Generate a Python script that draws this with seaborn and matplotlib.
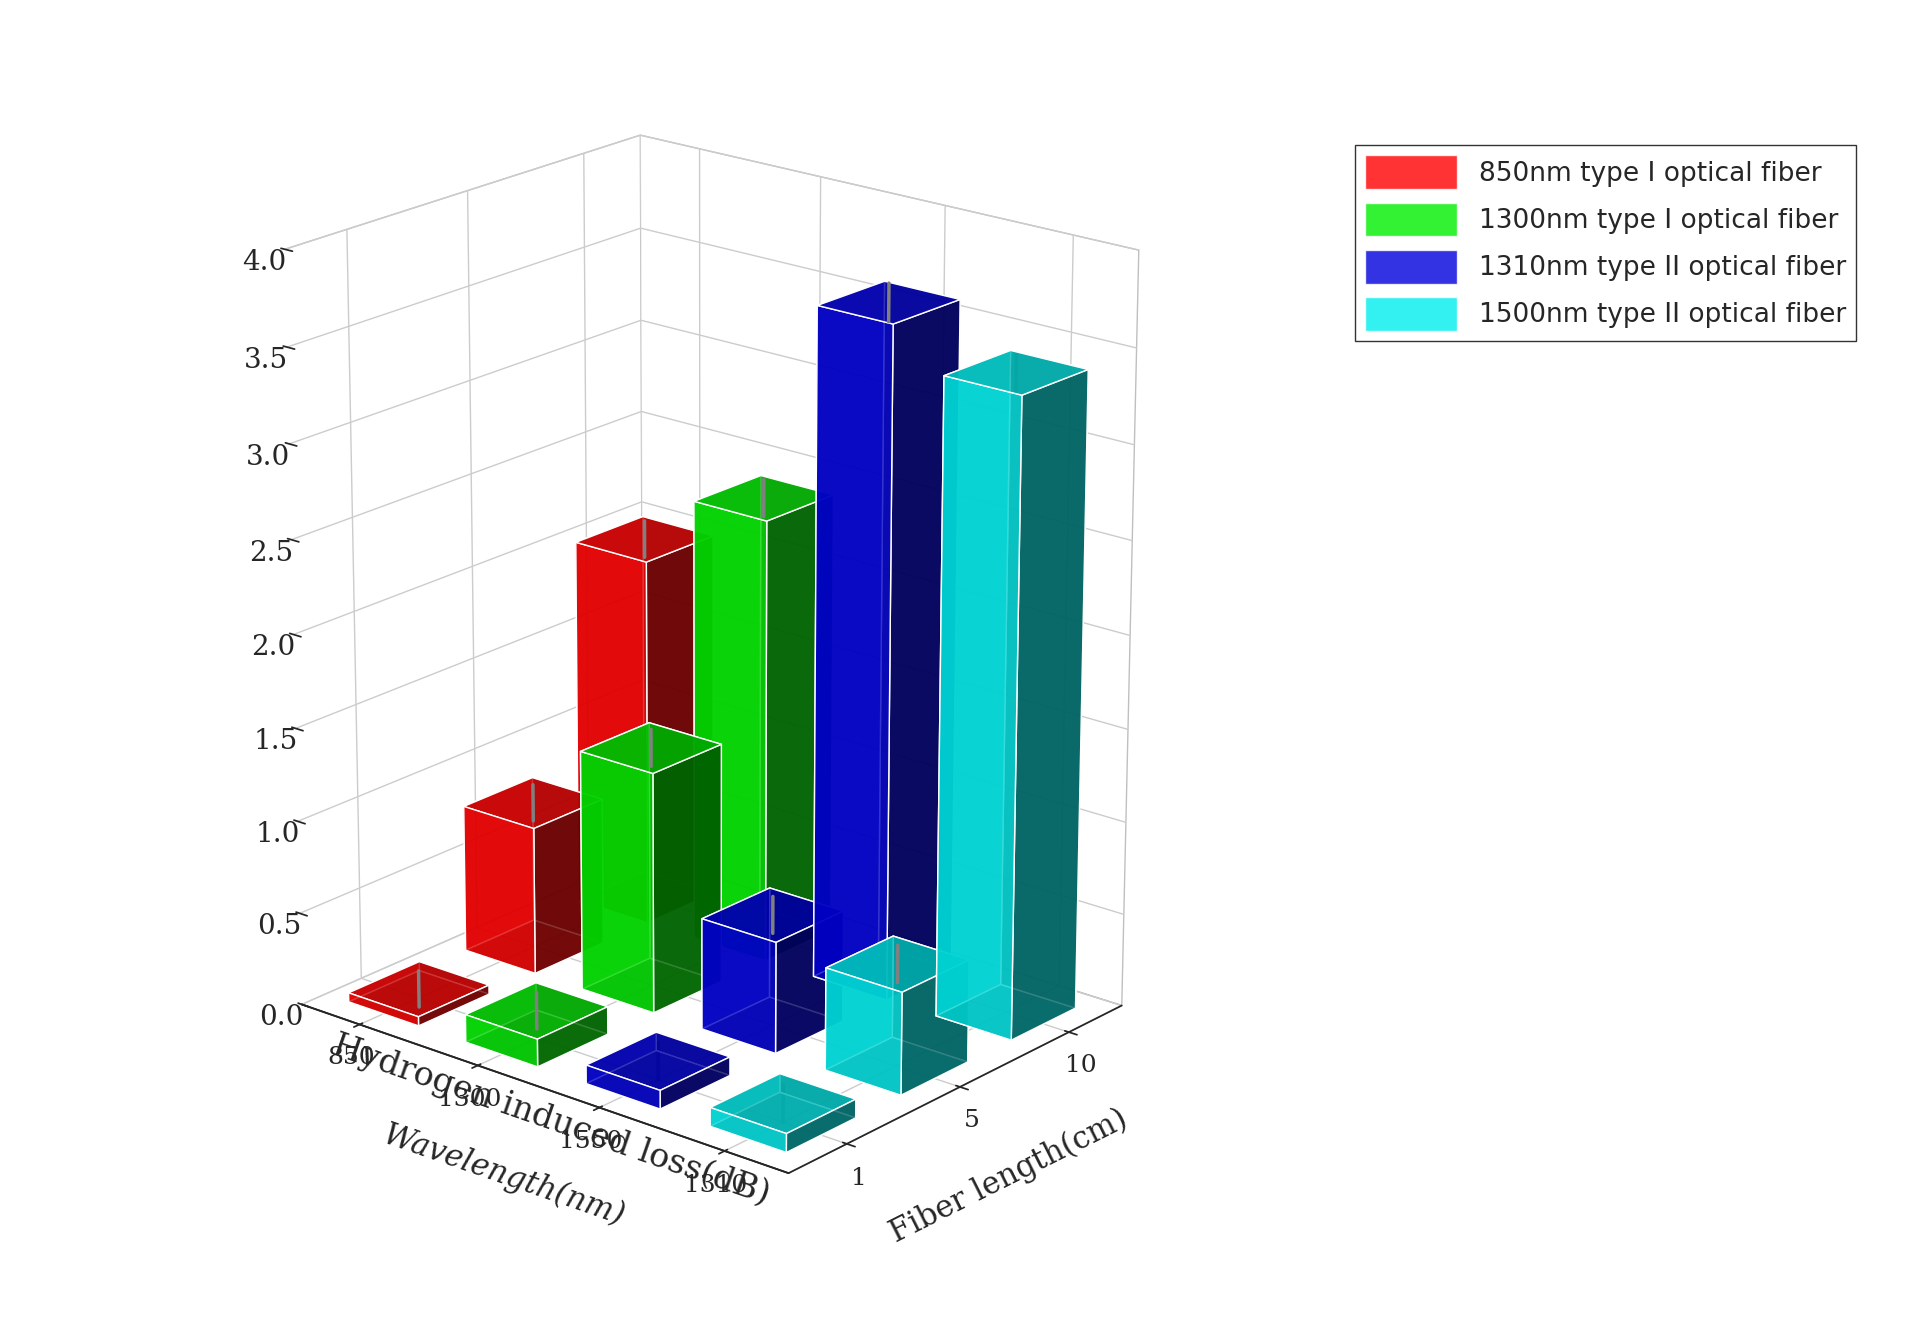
import numpy as np
import seaborn as sns
import matplotlib
matplotlib.use("Agg")
import matplotlib.pyplot as plt
from matplotlib.patches import Patch

sns.set_theme(style="white")
plt.rcParams['font.family'] = ['DejaVu Sans']

wavelengths = ["850", "1300", "1550", "1310"]
lengths = ["1", "5", "10"]
series_names = ["850nm type I optical fiber", "1300nm type I optical fiber",
                "1310nm type II optical fiber", "1500nm type II optical fiber"]
colors = ["#ff0000", "#00ee00", "#0000dd", "#00eeee"]
loss_len1 = [0.05, 0.15, 0.10, 0.10]
loss_len5 = [0.80, 1.30, 0.60, 0.55]
loss_len10 = [2.00, 2.40, 3.60, 3.40]
err = [0.1, 0.1, 0.1, 0.1]

fig = plt.figure(figsize=(19.3, 13.17), dpi=100)
ax = fig.add_axes([0.0, 0.03, 0.72, 0.95], projection='3d')
vals = [loss_len1, loss_len5, loss_len10]
dx, dy = 0.6, 0.6
for j, row in enumerate(vals):
    for i, v in enumerate(row):
        ax.bar3d(i - dx / 2, j - dy / 2, 0, dx, dy, v, color=colors[i], alpha=0.8, shade=True)
        ax.plot([i, i], [j, j], [v - err[i], v + err[i]], color='gray', lw=2.5, zorder=10)
ax.zaxis._axinfo['juggled'] = (1, 0, 2)
ax.set_xticks(range(4))
ax.set_xticklabels(wavelengths, fontsize=18, family='serif')
ax.set_yticks(range(3))
ax.set_yticklabels(lengths, fontsize=18, family='serif')
ax.set_zlim(0, 4)
ax.set_zticks(np.arange(0, 4.01, 0.5))
ax.set_zticklabels([f"{t:.1f}" for t in np.arange(0, 4.01, 0.5)], fontsize=20, family='serif')
ax.set_xlabel("Wavelength(nm)", fontsize=22, family='serif', labelpad=25, style='italic')
ax.set_ylabel("Fiber length(cm)", fontsize=22, family='serif', labelpad=25)
ax.set_zlabel("Hydrogen induced loss(dB)", fontsize=24, family='serif', labelpad=25)
ax.set_xlim(-0.5, 3.5)
ax.set_ylim(-0.5, 2.5)
ax.view_init(elev=20, azim=-50)
ax.set_box_aspect((1.2, 1.0, 1.5), zoom=0.9)
for a in (ax.xaxis, ax.yaxis, ax.zaxis):
    a.pane.set_facecolor((1, 1, 1, 0))
    a.pane.set_edgecolor('gray')
ax.grid(True)

handles = [Patch(facecolor=c, alpha=0.8, label=n) for c, n in zip(colors, series_names)]
fig.legend(handles=handles, loc='upper left', bbox_to_anchor=(0.695, 0.9),
           fontsize=19, handlelength=3.5, handleheight=1.6, frameon=True,
           edgecolor='black', fancybox=False)
fig.savefig("out.png", dpi=100)
